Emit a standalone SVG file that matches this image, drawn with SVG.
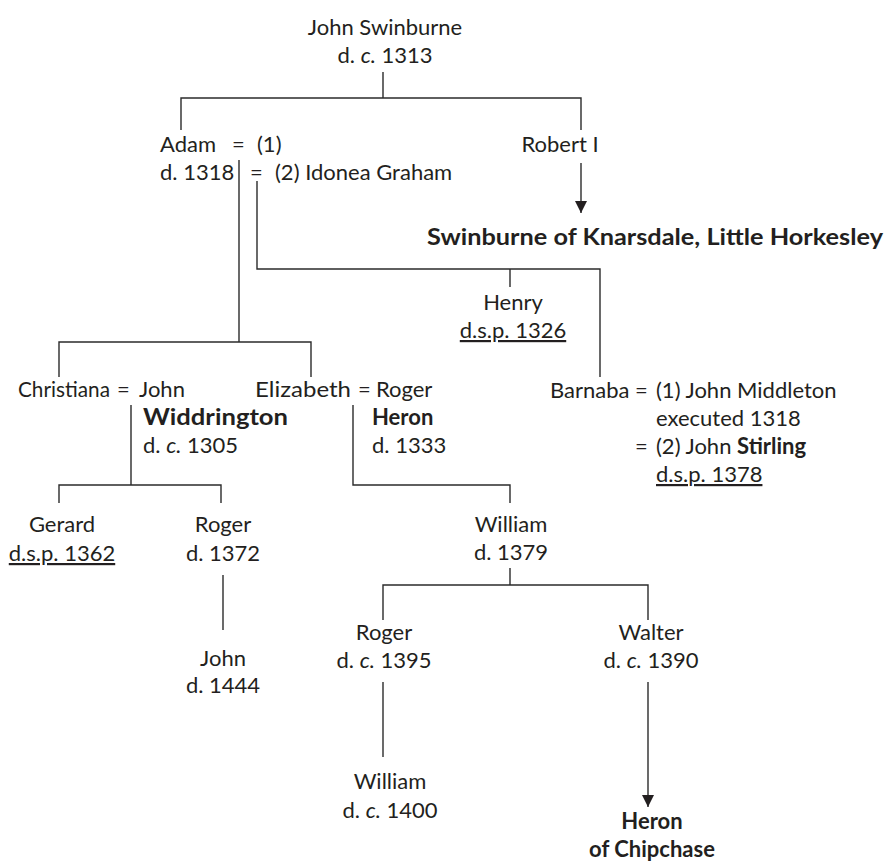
<svg xmlns="http://www.w3.org/2000/svg" width="890" height="863" viewBox="0 0 890 863">
<defs>
<marker id="arr" markerUnits="userSpaceOnUse" markerWidth="12" markerHeight="14" refX="12" refY="6" orient="auto">
<path d="M0,0 L12,6 L0,12 z" fill="#231f20"/>
</marker>
<style>
text{font-family:Lato,"Open Sans","Liberation Sans",sans-serif;font-size:22px;fill:#231f20}
.m{text-anchor:middle}
.b{font-weight:bold}
.i{font-style:italic}
.u{text-decoration:underline}
.c{fill:none;stroke:#2b2b2b;stroke-width:1.4}
</style>
</defs>
<rect width="890" height="863" fill="#fff"/>
<g id="connectors">
<path class="c" d="M383 72V98M181 130V98H581V130"/>
<path class="c" d="M239 160V342M59 377V342H311V377"/>
<path class="c" d="M257 181V269H600V377M510 269V287"/>
<path class="c" d="M581 163V213" marker-end="url(#arr)"/>
<path class="c" d="M131 405V485M59 503V485H221V503"/>
<path class="c" d="M223 575V630"/>
<path class="c" d="M353 405V485H510V503"/>
<path class="c" d="M510 568V585M383 620V585H648V620"/>
<path class="c" d="M383 682V757"/>
<path class="c" d="M648 682V807" marker-end="url(#arr)"/>
</g>
<g id="john-swinburne">
<text class="m" x="385" y="35">John Swinburne</text>
<text class="m" x="385" y="63">d. <tspan class="i">c.</tspan> 1313</text>
</g>
<g id="adam">
<text x="160" y="152">Adam</text>
<text x="232" y="152">=</text>
<text x="257" y="152">(1)</text>
<text x="160" y="180">d. 1318</text>
<text x="250" y="180">=</text>
<text x="275" y="180">(2) Idonea Graham</text>
</g>
<g id="robert">
<text class="m" x="560" y="152">Robert I</text>
</g>
<g id="knarsdale">
<text class="b" x="427" y="245" textLength="456" lengthAdjust="spacingAndGlyphs">Swinburne of Knarsdale, Little Horkesley</text>
</g>
<g id="henry">
<text class="m" x="513" y="310">Henry</text>
<text class="m u" x="513" y="338">d.s.p. 1326</text>
</g>
<g id="christiana">
<text x="18" y="397" textLength="92" lengthAdjust="spacingAndGlyphs">Christiana</text>
<text x="117" y="397">=</text>
<text x="139" y="397">John</text>
<text class="b" x="143" y="425" textLength="145" lengthAdjust="spacingAndGlyphs">Widdrington</text>
<text x="143" y="453">d. <tspan class="i">c.</tspan> 1305</text>
</g>
<g id="elizabeth">
<text x="255" y="397" textLength="96" lengthAdjust="spacingAndGlyphs">Elizabeth</text>
<text x="358" y="397">=</text>
<text x="376" y="397">Roger</text>
<text class="b" x="372" y="425">Heron</text>
<text x="372" y="453">d. 1333</text>
</g>
<g id="barnaba">
<text x="550" y="398">Barnaba</text>
<text x="635" y="398">=</text>
<text x="656" y="398">(1) John Middleton</text>
<text x="656" y="426">executed 1318</text>
<text x="635" y="454">=</text>
<text x="656" y="454">(2) John <tspan class="b">Stirling</tspan></text>
<text class="u" x="656" y="482">d.s.p. 1378</text>
</g>
<g id="gerard">
<text class="m" x="62" y="532">Gerard</text>
<text class="m u" x="62" y="561">d.s.p. 1362</text>
</g>
<g id="roger-1372">
<text class="m" x="223" y="532">Roger</text>
<text class="m" x="223" y="561">d. 1372</text>
</g>
<g id="john-1444">
<text class="m" x="223" y="666">John</text>
<text class="m" x="223" y="693">d. 1444</text>
</g>
<g id="william-1379">
<text class="m" x="511" y="532">William</text>
<text class="m" x="511" y="560">d. 1379</text>
</g>
<g id="roger-1395">
<text class="m" x="384" y="640">Roger</text>
<text class="m" x="384" y="668">d. <tspan class="i">c.</tspan> 1395</text>
</g>
<g id="walter">
<text class="m" x="651" y="640">Walter</text>
<text class="m" x="651" y="668">d. <tspan class="i">c.</tspan> 1390</text>
</g>
<g id="william-1400">
<text class="m" x="390" y="789">William</text>
<text class="m" x="390" y="818">d. <tspan class="i">c.</tspan> 1400</text>
</g>
<g id="heron-chipchase">
<text class="m b" x="652" y="829">Heron</text>
<text class="m b" x="652" y="857">of Chipchase</text>
</g>
</svg>
